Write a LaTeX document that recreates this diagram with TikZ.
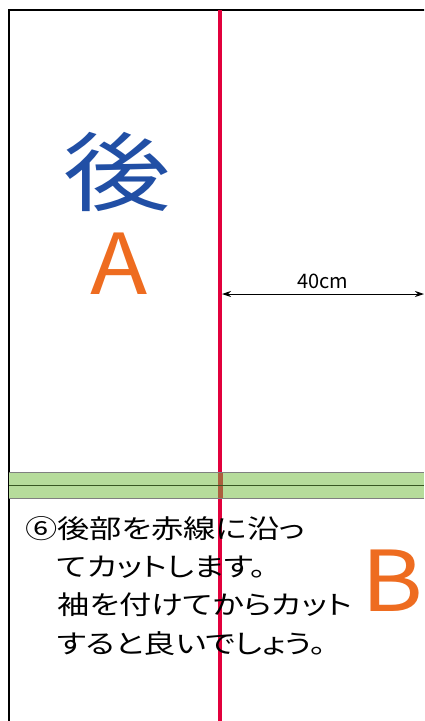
\documentclass[tikz,border=0pt]{standalone}
\usepackage{fontspec}
\setmainfont{Noto Sans CJK JP}
\newfontfamily\jpwide[FakeStretch=1.24,RawFeature=+palt]{Noto Sans CJK JP}
\newfontfamily\jpbig[FakeStretch=1.25]{Noto Sans CJK JP}
\newfontfamily\latinwide[FakeStretch=1.12]{Noto Sans CJK JP}
\usetikzlibrary{arrows.meta}
\definecolor{cutred}{RGB}{226,0,60}
\definecolor{backblue}{RGB}{33,79,165}
\definecolor{partorange}{RGB}{238,108,32}
\definecolor{seamgreen}{RGB}{182,220,155}
\definecolor{seamdark}{RGB}{56,87,35}
\definecolor{seamred}{RGB}{172,94,62}
\tikzstyle{frame}=[draw=black,line width=2pt]
\tikzstyle{cutline}=[draw=cutred,line width=3.6pt]
\tikzstyle{measure}=[{Stealth[length=9pt,width=6pt]}-{Stealth[length=9pt,width=6pt]},line width=1pt]

\begin{document}
\begin{tikzpicture}[x=1pt,y=-1pt]
    \tikzstyle{partlabel}=[text=partorange,font=\latinwide\fontsize{84}{84}\selectfont,inner sep=0pt]
    \tikzstyle{note}=[anchor=west,inner sep=0pt,font=\jpwide\fontsize{26}{30}\selectfont]
    \useasboundingbox (0,0) rectangle (424,721);
    \clip (0,0) rectangle (424,721);
    % outline of the cloth
    \draw[frame] (9,10) rectangle (440,740);
    % red cutting line
    \draw[cutline] (220,10) coordinate (cuttop) -- (220,740) coordinate (cutbottom);
    % seam band
    \fill[seamgreen] (9,472) rectangle (424,498);
    \fill[seamred] (217.5,472) rectangle (222.5,498);
    \draw[gray,line width=1pt] (9,472.5) -- (424,472.5) (9,498) -- (424,498);
    \draw[seamdark,line width=1.5pt] (9,485.5) -- (424,485.5);
    % labels
    \node[text=backblue,font=\jpbig\fontsize{86}{86}\selectfont,inner sep=0pt] (back) at (117,172) {後};
    \node[partlabel] (parta) at (119,264) {A};
    \node[partlabel] (partb) at (392,581) {B};
    % width of the back
    \coordinate (wleft) at (222,294);
    \coordinate (wright) at (424,294);
    \draw[measure] (wleft) -- node[above=1pt,font=\fontsize{20}{20}\selectfont] (width) {40cm} (wright);
    % instruction
    \node[note] (line1) at (25,529) {⑥後部を赤線に沿っ};
    \node[note] (line2) at (57,567) {てカットします。};
    \node[note] (line3) at (57,605) {袖を付けてからカット};
    \node[note] (line4) at (57,644) {すると良いでしょう。};
\end{tikzpicture}
\end{document}
